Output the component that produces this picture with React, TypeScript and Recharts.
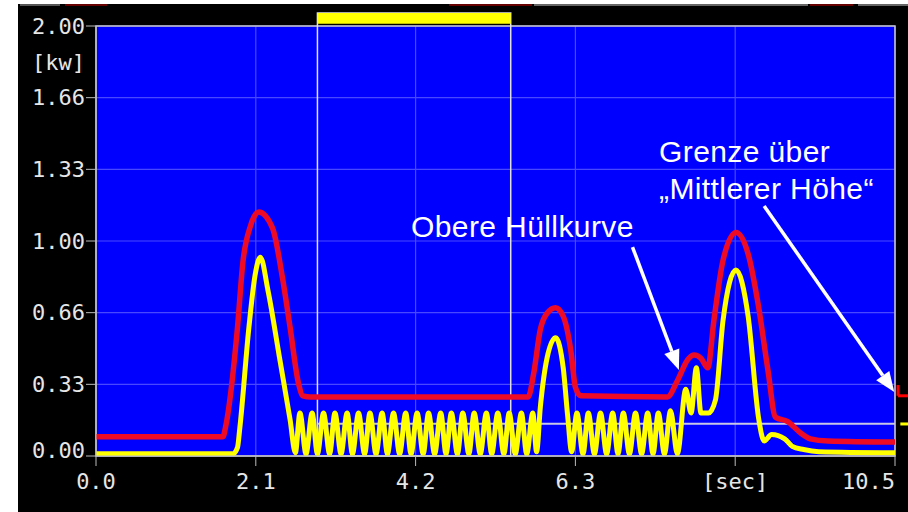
import React from 'react';
import { LineChart, Line, XAxis, YAxis, CartesianGrid, ReferenceLine, ReferenceArea } from 'recharts';

// Obere Hüllkurve (rot)
const envelopeTime = [
  0, 1.67, 1.7, 1.86, 1.93, 2.03, 2.14, 2.32, 2.45, 2.55, 2.66, 2.72, 2.82,
  5.68, 5.75, 5.84, 5.93, 6.04, 6.14, 6.24, 6.3, 6.37,
  7.51, 7.64, 7.78, 7.86, 7.95, 8.04, 8.12, 8.24, 8.41, 8.57, 8.7, 8.83, 8.93,
  9.09, 9.26, 9.39, 9.62, 10.5,
];
const envelopeKw = [
  0.09, 0.09, 0.13, 0.6, 0.9, 1.07, 1.135, 1.06, 0.83, 0.6, 0.34, 0.28, 0.275,
  0.275, 0.38, 0.59, 0.665, 0.69, 0.65, 0.49, 0.32, 0.28,
  0.275, 0.35, 0.45, 0.47, 0.455, 0.41, 0.63, 0.91, 1.04, 0.94, 0.71, 0.4, 0.18,
  0.16, 0.107, 0.08, 0.07, 0.065,
];

// Messsignal (gelb)
const signalTime = [
  0, 1.8, 1.86, 1.89, 2.01, 2.09, 2.16, 2.26, 2.42, 2.55, 2.62,
  2.68, 2.76, 2.84, 2.91, 2.99, 3.07, 3.14, 3.22, 3.3, 3.37, 3.45, 3.53, 3.6, 3.68,
  3.76, 3.83, 3.91, 3.99, 4.07, 4.14, 4.22, 4.3, 4.37, 4.45, 4.53, 4.6, 4.67, 4.75,
  4.82, 4.9, 4.97, 5.05, 5.13, 5.2, 5.28, 5.36, 5.43, 5.51, 5.59, 5.66, 5.74, 5.79,
  5.84, 5.93, 6.04, 6.14, 6.2, 6.25,
  6.32, 6.4, 6.47, 6.55, 6.63, 6.71, 6.79, 6.86, 6.93, 7.01, 7.09, 7.17, 7.25, 7.32,
  7.39, 7.47, 7.55, 7.64,
  7.75, 7.82, 7.89, 7.95, 8.05, 8.14, 8.24, 8.41, 8.57, 8.71, 8.78, 8.88, 9.05,
  9.15, 9.3, 9.5, 10.5,
];
const signalKw = [
  0.01, 0.01, 0.04, 0.13, 0.6, 0.84, 0.925, 0.77, 0.44, 0.17, 0.015,
  0.2, 0.01, 0.2, 0.01, 0.2, 0.01, 0.2, 0.01, 0.2, 0.01, 0.2, 0.01, 0.2, 0.01,
  0.2, 0.01, 0.2, 0.01, 0.2, 0.01, 0.2, 0.01, 0.2, 0.01, 0.2, 0.01, 0.2, 0.01,
  0.2, 0.01, 0.2, 0.01, 0.2, 0.01, 0.2, 0.01, 0.2, 0.01, 0.2, 0.01, 0.2, 0.02,
  0.23, 0.46, 0.55, 0.41, 0.18, 0.02,
  0.2, 0.01, 0.2, 0.01, 0.2, 0.01, 0.2, 0.01, 0.2, 0.01, 0.2, 0.01, 0.2, 0.01,
  0.2, 0.01, 0.21, 0.01,
  0.31, 0.2, 0.41, 0.2, 0.2, 0.26, 0.63, 0.865, 0.65, 0.17, 0.07, 0.1, 0.08,
  0.045, 0.03, 0.02, 0.015,
];

const xTicks = [0, 2.1, 4.2, 6.3, 8.4, 10.5];
const xTickLabels = ['0.0', '2.1', '4.2', '6.3', '[sec]', '10.5'];
const yTicks = [0, 1 / 3, 2 / 3, 1, 4 / 3, 5 / 3, 2];
const yTickLabels = ['0.00', '0.33', '0.66', '1.00', '1.33', '1.66', '2.00'];

const envelope = envelopeTime.map((t, i) => ({ t, kw: envelopeKw[i] }));
const signal = signalTime.map((t, i) => ({ t, kw: signalKw[i] }));

const tickFont = { fill: '#e6e6e6', fontSize: 22, fontFamily: 'DejaVu Sans Mono' };

const XTick = (p: any) => {
  const i = xTicks.indexOf(p.payload.value);
  const last = i === xTicks.length - 1;
  return (
    <text x={last ? p.x + 1 : p.x} y={p.y} dy="0.71em" textAnchor={last ? 'end' : 'middle'} {...tickFont}>
      {xTickLabels[i]}
    </text>
  );
};

const YTick = (p: any) => {
  const i = p.index;
  return (
    <text x={p.x} y={i === 0 ? p.y - 6 : p.y} dy="0.355em" textAnchor="end" {...tickFont}>
      {yTickLabels[i]}
    </text>
  );
};

const Arrow = (p: any) => {
  const { x1, y1, x2, y2 } = p;
  const a = Math.atan2(y2 - y1, x2 - x1);
  const len = 20;
  const half = 8;
  const bx = x2 - len * Math.cos(a);
  const by = y2 - len * Math.sin(a);
  const nx = -Math.sin(a) * half;
  const ny = Math.cos(a) * half;
  return (
    <g>
      <line x1={x1} y1={y1} x2={bx} y2={by} stroke="#fff" strokeWidth={3.5} />
      <polygon points={`${x2},${y2} ${bx + nx},${by + ny} ${bx - nx},${by - ny}`} fill="#fff" />
    </g>
  );
};

const noteStyle: React.CSSProperties = {
  position: 'absolute',
  color: '#fff',
  fontFamily: 'Arial, "Liberation Sans", sans-serif',
  fontSize: 30,
  lineHeight: 1,
  whiteSpace: 'nowrap',
  letterSpacing: 0.4,
};

const strip = (left: number, width: number, color: string): React.CSSProperties => ({
  position: 'absolute', left, top: 4, width, height: 2, background: color,
});

export default function App() {
  return (
    <div style={{ position: 'absolute', left: 0, top: 0, width: 908, height: 512, background: '#fff', overflow: 'hidden' }}>
      <div style={{ position: 'absolute', left: 18, top: 4, width: 890, height: 508, background: '#000' }} />
      <div style={strip(20, 40, '#555')} />
      <div style={strip(65, 42, '#600')} />
      <div style={strip(449, 83, '#600')} />
      <div style={strip(534, 274, '#666')} />
      <div style={strip(810, 43, '#600')} />
      <div style={strip(858, 50, '#666')} />
      <div style={{ position: 'absolute', left: 0, top: 0 }}>
        <LineChart width={908} height={512} margin={{ top: 26, right: 13, bottom: 0, left: 0 }}>
          <CartesianGrid fill="#0000ff" stroke="#4848ff" strokeWidth={1.2} />
          <XAxis
            dataKey="t"
            type="number"
            domain={[0, 10.5]}
            ticks={xTicks}
            tick={<XTick />}
            tickSize={10}
            tickMargin={7}
            height={56}
            stroke="#bbb"
            allowDataOverflow
          />
          <YAxis
            type="number"
            domain={[0, 2]}
            ticks={yTicks}
            tick={<YTick />}
            tickSize={10}
            tickMargin={1}
            width={96}
            stroke="#bbb"
            allowDataOverflow
          />
          <ReferenceLine
            y={11 / 6}
            stroke="none"
            label={{ value: '[kw]', position: 'left', offset: 11, ...tickFont }}
          />
          <ReferenceArea x1={0} x2={10.5} y1={0} y2={2} fill="none" stroke="#c8c8c8" strokeWidth={1.5} ifOverflow="visible" />
          <ReferenceArea x1={2.91} x2={5.45} y1={0} y2={2.06} fill="none" stroke="#e0e0e0" strokeWidth={1.5} ifOverflow="visible" />
          <ReferenceArea x1={2.91} x2={5.45} y1={2.01} y2={2.06} fill="#ffff00" fillOpacity={1} stroke="none" ifOverflow="visible" />
          <ReferenceLine segment={[{ x: 2.91, y: 0.15 }, { x: 10.5, y: 0.15 }]} stroke="#c8c8e6" strokeWidth={2} />
          <Line data={envelope} dataKey="kw" type="monotone" stroke="#ee0a24" strokeWidth={5.5} dot={false} isAnimationActive={false} />
          <Line data={signal} dataKey="kw" type="monotone" stroke="#ffff00" strokeWidth={5} dot={false} isAnimationActive={false} />
          <ReferenceLine segment={[{ x: 7.05, y: 0.972 }, { x: 7.66, y: 0.4 }]} shape={Arrow} ifOverflow="visible" />
          <ReferenceLine segment={[{ x: 8.78, y: 1.163 }, { x: 10.49, y: 0.298 }]} shape={Arrow} ifOverflow="visible" />
          <ReferenceLine segment={[{ x: 10.54, y: 0.33 }, { x: 10.54, y: 0.28 }]} stroke="#ff0000" strokeWidth={3} ifOverflow="visible" />
          <ReferenceLine segment={[{ x: 10.54, y: 0.28 }, { x: 10.7, y: 0.28 }]} stroke="#ff0000" strokeWidth={3} ifOverflow="visible" />
          <ReferenceLine segment={[{ x: 10.57, y: 0.149 }, { x: 10.7, y: 0.149 }]} stroke="#ffff00" strokeWidth={3} ifOverflow="visible" />
        </LineChart>
      </div>
      <div style={{ ...noteStyle, left: 411, top: 212 }}>Obere Hüllkurve</div>
      <div style={{ ...noteStyle, left: 659, top: 137 }}>Grenze über</div>
      <div style={{ ...noteStyle, left: 659, top: 174 }}>„Mittlerer Höhe“</div>
    </div>
  );
}
